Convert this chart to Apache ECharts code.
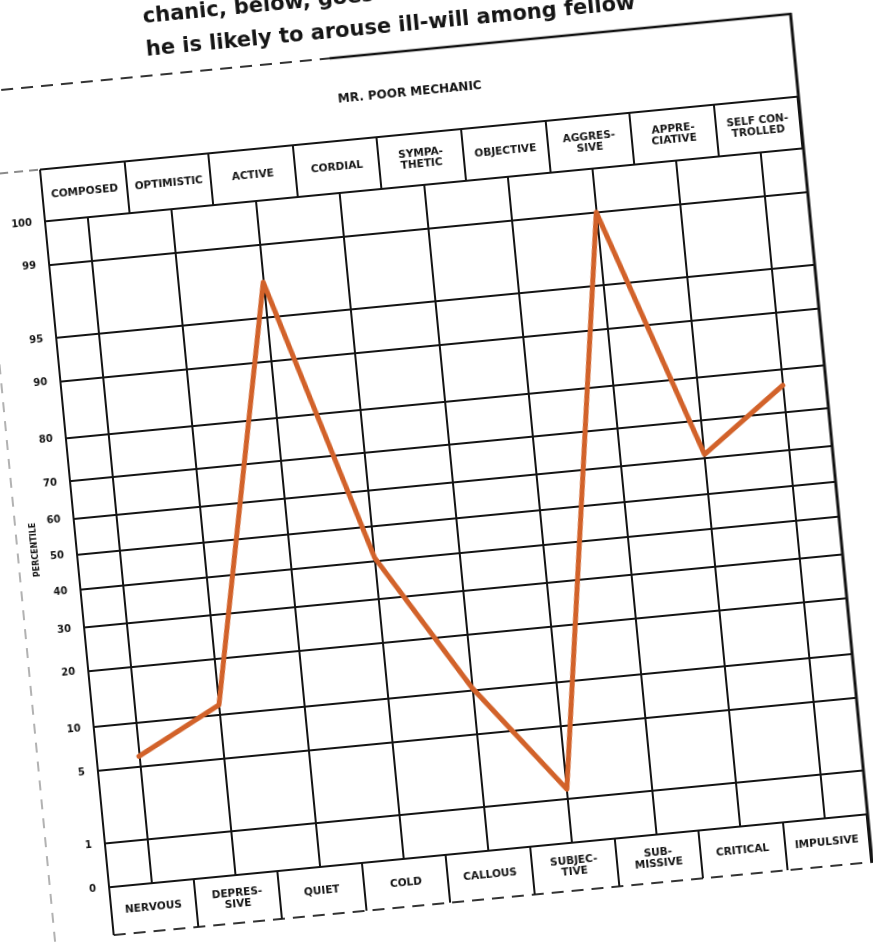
<!DOCTYPE html>
<html><head><meta charset="utf-8">
<script src="https://cdn.jsdelivr.net/npm/echarts@6/dist/echarts.min.js"></script>
<style>
html,body{margin:0;padding:0;width:873px;height:948px;overflow:hidden;background:#fff;}
#wrap{position:absolute;left:-60px;top:-60px;width:993px;height:1068px;transform:rotate(-5.5deg);transform-origin:50% 50%;background:#fff;}
</style></head><body>
<div id="wrap"></div>
<script>
// ---- data ----
const lowTraits = ['NERVOUS', 'DEPRES-\nSIVE', 'QUIET', 'COLD', 'CALLOUS', 'SUBJEC-\nTIVE', 'SUB-\nMISSIVE', 'CRITICAL', 'IMPULSIVE'];
const highTraits = ['COMPOSED', 'OPTIMISTIC', 'ACTIVE', 'CORDIAL', 'SYMPA-\nTHETIC', 'OBJECTIVE', 'AGGRES-\nSIVE', 'APPRE-\nCIATIVE', 'SELF CON-\nTROLLED'];
const percentiles = [6, 11.5, 97.5, 41, 10.4, 1.3, 99, 61, 76.5];
const tickPercentiles = [100, 99, 95, 90, 80, 70, 60, 50, 40, 30, 20, 10, 5, 1, 0];
const tickLabels = ['100', '99', '95', '90', '80', '70', '60', '50', '40', '30', '20', '10', '5', '1', '0'];
const captionLines = ['chanic, below, goes', 'he is likely to arouse ill-will among fellow'];
const chartTitle = 'MR. POOR MECHANIC';
const axisTitle = 'PERCENTILE';

// ---- percentile (normal-probability type) scale ----
const C = 0.0508;          // tail compression of the printed scale
const U_END = 2.371;       // position of 0 / 100 on the scale
function probit(p) {
  const a = [-3.969683028665376e+01, 2.209460984245205e+02, -2.759285104469687e+02, 1.383577518672690e+02, -3.066479806614716e+01, 2.506628277459239e+00];
  const b = [-5.447609879822406e+01, 1.615858368580409e+02, -1.556989798598866e+02, 6.680131188771972e+01, -1.328068155288572e+01];
  const c = [-7.784894002430293e-03, -3.223964580411365e-01, -2.400758277161838e+00, -2.549732539343734e+00, 4.374664141464968e+00, 2.938163982698783e+00];
  const d = [7.784695709041462e-03, 3.224671290700398e-01, 2.445134137142996e+00, 3.754408661907416e+00];
  const plow = 0.02425, phigh = 1 - plow;
  let q, r;
  if (p < plow) {
    q = Math.sqrt(-2 * Math.log(p));
    return (((((c[0]*q+c[1])*q+c[2])*q+c[3])*q+c[4])*q+c[5]) / ((((d[0]*q+d[1])*q+d[2])*q+d[3])*q+1);
  } else if (p <= phigh) {
    q = p - 0.5; r = q*q;
    return (((((a[0]*r+a[1])*r+a[2])*r+a[3])*r+a[4])*r+a[5])*q / (((((b[0]*r+b[1])*r+b[2])*r+b[3])*r+b[4])*r+1);
  } else {
    q = Math.sqrt(-2 * Math.log(1 - p));
    return -(((((c[0]*q+c[1])*q+c[2])*q+c[3])*q+c[4])*q+c[5]) / ((((d[0]*q+d[1])*q+d[2])*q+d[3])*q+1);
  }
}
function toScale(pct) {
  if (pct <= 0) return -U_END;
  if (pct >= 100) return U_END;
  const z = probit(pct / 100);
  return z / Math.sqrt(1 + C * z * z);
}
const tickU = tickPercentiles.map(toScale);

// ---- layout ----
const L = { left: 131, top: 245, width: 761, height: 669, headH: 52, footH: 48 };
const gR = L.left + L.width, gB = L.top + L.height;
const INK = '#141414';
const FONT = '"DejaVu Sans", sans-serif';

const chart = echarts.init(document.getElementById('wrap'), null, { renderer: 'canvas' });
chart.setOption({
  animation: false,
  backgroundColor: '#fff',
  grid: { left: L.left, top: L.top, width: L.width, height: L.height, containLabel: false },
  xAxis: [
    {
      type: 'category', position: 'bottom', data: lowTraits, boundaryGap: true,
      axisLine: { show: true, onZero: false, lineStyle: { color: INK, width: 2 } },
      axisTick: { show: true, interval: 0, alignWithLabel: false, length: L.footH, inside: false, lineStyle: { color: INK, width: 2 } },
      axisLabel: { interval: 0, margin: L.footH / 2, verticalAlign: 'middle', align: 'center', color: INK, fontFamily: FONT, fontWeight: 'bold', fontSize: 10.5, lineHeight: 11 },
      splitLine: { show: false }
    },
    {
      type: 'category', position: 'top', data: highTraits, boundaryGap: true,
      axisLine: { show: true, onZero: false, lineStyle: { color: INK, width: 2 } },
      axisTick: { show: true, interval: 0, alignWithLabel: false, length: L.headH, inside: false, lineStyle: { color: INK, width: 2 } },
      axisLabel: { interval: 0, margin: L.headH / 2, verticalAlign: 'middle', align: 'center', color: INK, fontFamily: FONT, fontWeight: 'bold', fontSize: 10.5, lineHeight: 11 },
      splitLine: { show: false }
    }
  ],
  yAxis: {
    type: 'value', min: -U_END, max: U_END,
    axisLine: { show: true, onZero: false, lineStyle: { color: INK, width: 2 } },
    axisTick: { show: false },
    splitLine: { show: false },
    axisLabel: {
      customValues: tickU,
      margin: 13,
      color: INK, fontFamily: FONT, fontWeight: 'bold', fontSize: 10,
      formatter: function (v) {
        let best = 0, bd = Infinity;
        tickU.forEach(function (u, i) { const dd = Math.abs(u - v); if (dd < bd) { bd = dd; best = i; } });
        return tickLabels[best];
      }
    }
  },
  series: [
    {
      type: 'line', data: [], silent: true, z: 1,
      markLine: {
        z: 1, silent: true, symbol: 'none', animation: false,
        label: { show: false },
        lineStyle: { color: INK, width: 2, type: 'solid' },
        emphasis: { disabled: true },
        data: tickU.map(function (u) { return { yAxis: u }; })
          .concat(lowTraits.map(function (c) { return { xAxis: c }; }))
      }
    },
    {
      type: 'line', name: 'Mr. Poor Mechanic', z: 10,
      data: percentiles.map(toScale),
      symbol: 'none', smooth: false,
      lineStyle: { color: '#d2622a', width: 5, cap: 'round', join: 'round' }
    }
  ],
  graphic: [
    { type: 'line', shape: { x1: L.left, y1: L.top - L.headH, x2: gR, y2: L.top - L.headH }, style: { stroke: INK, lineWidth: 2 } },
    { type: 'line', shape: { x1: 0, y1: L.top - L.headH, x2: L.left, y2: L.top - L.headH }, style: { stroke: '#666', lineWidth: 1.5, lineDash: [9, 6] } },
    { type: 'line', shape: { x1: L.left, y1: L.top - L.headH, x2: L.left, y2: gB + L.footH }, style: { stroke: INK, lineWidth: 2 } },
    { type: 'line', shape: { x1: L.left, y1: gB + L.footH, x2: gR + 10, y2: gB + L.footH }, style: { stroke: '#333', lineWidth: 2, lineDash: [12, 8] } },
    { type: 'line', shape: { x1: 20, y1: 110, x2: 430, y2: 110 }, style: { stroke: '#333', lineWidth: 2, lineDash: [12, 8] } },
    { type: 'line', shape: { x1: 430, y1: 110, x2: gR + 2, y2: 110 }, style: { stroke: INK, lineWidth: 2.5 } },
    { type: 'line', shape: { x1: gR + 1, y1: 109, x2: gR + 1, y2: gB + L.footH }, style: { stroke: INK, lineWidth: 3 } },
    { type: 'line', shape: { x1: 72, y1: 250, x2: 72, y2: 1068 }, style: { stroke: '#999', lineWidth: 1.5, lineDash: [10, 9] } },
    { type: 'text', x: L.left + L.width / 2 - 5, y: 152, style: { text: chartTitle, fill: INK, font: 'bold 12px ' + FONT, textAlign: 'center', textVerticalAlign: 'middle' } },
    { type: 'text', x: 248, y: 52, style: { text: captionLines[0], fill: INK, font: 'bold 21px ' + FONT, textAlign: 'left', textVerticalAlign: 'middle' } },
    { type: 'text', x: 248, y: 85, style: { text: captionLines[1], fill: INK, font: 'bold 21px ' + FONT, textAlign: 'left', textVerticalAlign: 'middle' } },
    { type: 'text', x: 90, y: 571, rotation: Math.PI / 2, style: { text: axisTitle, fill: INK, font: 'bold 8px ' + FONT, textAlign: 'center', textVerticalAlign: 'middle' } }
  ]
});
</script>
</body></html>
